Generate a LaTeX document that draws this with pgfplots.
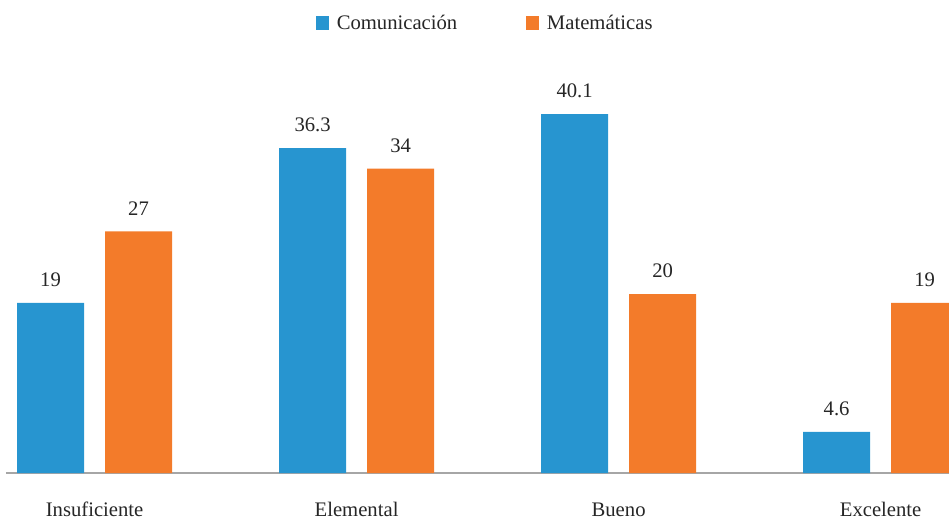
\documentclass[border=0pt]{standalone}
\usepackage{fontspec}
\setmainfont{Liberation Serif}
\usepackage{pgfplots}
\pgfplotsset{compat=1.18}

\definecolor{comblue}{RGB}{39,149,208}
\definecolor{matorange}{RGB}{243,123,42}
\definecolor{baseline}{RGB}{166,166,166}

% 1 px of the reference = 0.75pt
\begin{document}
\begin{tikzpicture}
\useasboundingbox (0,0) rectangle (711.75pt,388.5pt);
\begin{axis}[
    at={(4.5pt,33.75pt)}, anchor=south west,
    scale only axis,
    width=707.25pt, height=354.75pt,
    xmin=-0.338, xmax=3.261,
    ymin=0, ymax=52.85,
    ybar, bar width=50.25pt,
    hide y axis,
    axis x line*=bottom,
    axis line style={-, draw=baseline, line width=1.5pt},
    xtick={0,1,2,3},
    xticklabels={Insuficiente,Elemental,Bueno,Excelente},
    xtick style={draw=none},
    xticklabel style={anchor=base, inner sep=0pt, yshift=-28pt, text=black!85},
    font=\fontsize{15.5}{18}\selectfont,
    /pgf/number format/assume math mode=true,
    nodes near coords,
    every node near coord/.append style={anchor=south, inner sep=0pt, yshift=12pt, text=black!85},
    legend columns=2,
    legend style={draw=none, at={(0.5,1)}, anchor=center, xshift=6pt, yshift=-17.25pt,
        text=black!85,
        /tikz/every even column/.append style={column sep=49.5pt}},
    legend image code/.code={\fill[#1] (0pt,-5.5pt) rectangle (9.75pt,5.5pt);
        \path (13.75pt,0pt);},
]
\addplot[fill=comblue, draw=none, bar shift=-33pt] coordinates {(0,19) (1,36.3) (2,40.1) (3,4.6)};
\addplot[fill=matorange, draw=none, bar shift=33pt] coordinates {(0,27) (1,34) (2,20) (3,19)};
\legend{Comunicación, Matemáticas}
\end{axis}
\end{tikzpicture}
\end{document}
